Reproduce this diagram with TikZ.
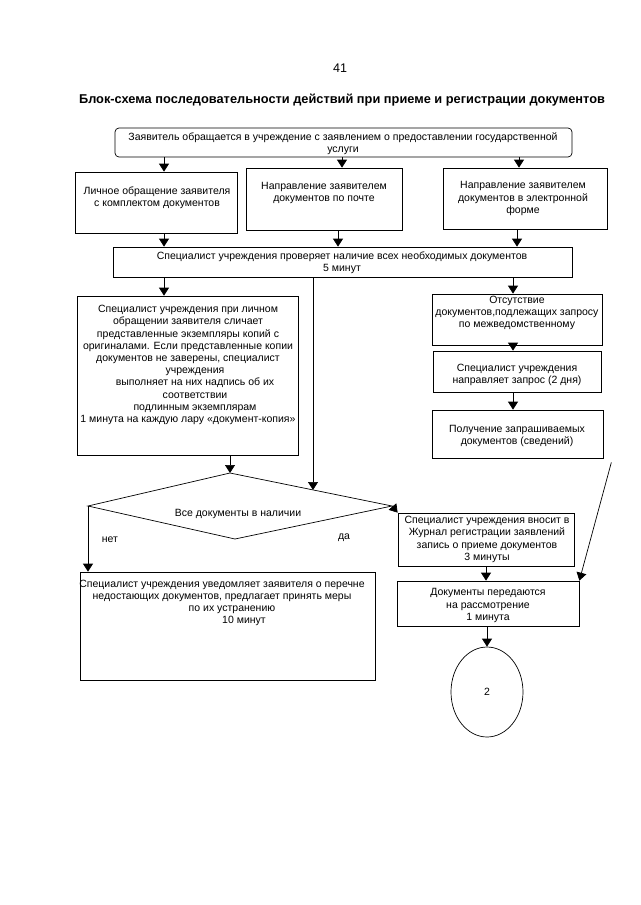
\documentclass[tikz,border=0pt]{standalone}
\usepackage{fontspec}
\setmainfont{Liberation Sans}
\usetikzlibrary{arrows.meta,shapes.geometric}
\begin{document}
\begin{tikzpicture}[x=1pt,y=-1pt,
  box/.style={draw,line width=0.7pt,inner sep=0pt,rectangle},
  txt/.style={align=center,inner sep=0pt,font=\fontsize{10.5}{12.2}\selectfont},
  arr/.style={-{Triangle[length=8pt,width=10pt]},line width=0.7pt},
  ln/.style={line width=0.7pt}]
\fill[white] (0,0) rectangle (640,905);
\useasboundingbox (0,0) rectangle (640,905);

% headings
\node[inner sep=0pt,font=\fontsize{12.5}{14}\selectfont] (pnum) at (340,68) {41};
\node[inner sep=0pt,font=\fontsize{12.8}{14}\selectfont\bfseries] (title) at (342,100) {Блок-схема последовательности действий при приеме и регистрации документов};

% boxes
\node[box,rounded corners=4pt,minimum width=457pt,minimum height=29pt] (T) at (343.5,142.5) {};
\node[txt] (Tt) at (343,144) {Заявитель обращается в учреждение с заявлением о предоставлении государственной\\услуги};

\node[box,minimum width=162pt,minimum height=61pt] (A) at (156,202.5) {};
\node[txt] (At) at (157,197.5) {Личное обращение заявителя\\с комплектом документов};

\node[box,minimum width=156pt,minimum height=62pt] (B) at (324,199) {};
\node[txt] (Bt) at (324,193) {Направление заявителем\\документов по почте};

\node[box,minimum width=164pt,minimum height=61pt] (C) at (525,198.5) {};
\node[txt] (Ct) at (523,198.5) {Направление заявителем\\документов в электронной\\форме};

\node[box,minimum width=459pt,minimum height=30pt] (S1) at (342.5,262) {};
\node[txt] (S1t) at (342,263) {Специалист учреждения проверяет наличие всех необходимых документов\\5 минут};

\node[box,minimum width=221pt,minimum height=159pt] (D) at (187.5,375.5) {};
\node[txt] (Dt) at (188,365) {Специалист учреждения при личном\\обращении заявителя сличает\\представленные экземпляры копий с\\оригиналами. Если представленные копии\\документов не заверены, специалист\\\hspace*{14pt}учреждения\\\hspace*{14pt}выполняет на них надпись об их\\\hspace*{14pt}соответствии\\\hspace*{14pt}подлинным экземплярам\\1 минута на каждую лару «документ-копия»};

\node[box,minimum width=170pt,minimum height=51pt] (O) at (517,319.5) {};
\node[txt] (Ot) at (517,313) {Отсутствие\\документов,подлежащих запросу\\по межведомственному};

\node[box,minimum width=168pt,minimum height=41pt] (N) at (517,371.5) {};
\node[txt] (Nt) at (517,375) {Специалист учреждения\\направляет запрос (2 дня)};

\node[box,minimum width=171pt,minimum height=48pt] (P) at (517.5,434) {};
\node[txt] (Pt) at (517,436) {Получение запрашиваемых\\документов (сведений)};

\node[box,minimum width=176pt,minimum height=53pt] (F) at (486,539.5) {};
\node[txt] (Ft) at (487,539.5) {Специалист учреждения вносит в\\Журнал регистрации заявлений\\запись о приеме документов\\3 минуты};

\node[box,minimum width=182pt,minimum height=45pt] (G) at (488,603.5) {};
\node[txt] (Gt) at (488,605.5) {Документы передаются\\на рассмотрение\\1 минута};

\node[box,minimum width=295pt,minimum height=108pt] (E) at (227.5,626) {};
\node[txt] (Et) at (222,603) {Специалист учреждения уведомляет заявителя о перечне\\недостающих документов, предлагает принять меры\\\hspace*{20pt}по их устранению\\\hspace*{44pt}10 минут};

\node[draw,ellipse,line width=0.7pt,minimum width=72pt,minimum height=90pt,inner sep=0pt,font=\fontsize{10.5}{12.2}\selectfont] (K) at (487,692) {2};

% decision
\coordinate (dl) at (88,506);
\coordinate (dt) at (230,473);
\coordinate (dr) at (392,506);
\coordinate (db) at (235,539);
\draw[ln] (dl) -- (dt) -- (dr) -- (db) -- cycle;
\node[txt] (Qt) at (238,514) {Все документы в наличии};
\node[txt] (no) at (110,540) {нет};
\node[txt] (yes) at (344,538) {да};

% column coordinates
\coordinate (xa) at (164,0);
\coordinate (xb) at (342,0);
\coordinate (xb2) at (338,0);
\coordinate (xc) at (519,0);
\coordinate (xc2) at (517,0);
\coordinate (xo) at (513,0);
\coordinate (xf) at (486,0);
\coordinate (xg) at (487,0);
\coordinate (dd) at (313,490);

% connectors
\draw[arr] (T.south -| xa) -- (A.north -| xa);
\draw[arr] (T.south -| xb) -- (B.north -| xb);
\draw[arr] (T.south -| xc) -- (C.north -| xc);
\draw[arr] (A.south -| xa) -- (S1.north -| xa);
\draw[arr] (B.south -| xb2) -- (S1.north -| xb2);
\draw[arr] (C.south -| xc2) -- (S1.north -| xc2);
\draw[arr] (S1.south -| xa) -- (D.north -| xa);
\draw[arr] (S1.south -| dd) -- (dd);
\draw[arr] (S1.south -| xo) -- (O.north -| xo);
\draw[arr] (O.south -| xo) -- (N.north -| xo);
\draw[arr] (N.south -| xo) -- (P.north -| xo);
\draw[arr] (D.south -| dt) -- (dt);
\draw[arr] (dl) -- (dl |- E.north);
\draw[arr] (dr) -- (F.north west);
\draw[arr] (F.south -| xf) -- (G.north -| xf);
\coordinate (pr) at ([xshift=8pt,yshift=-4pt]P.south east);
\draw[arr] (pr) -- (G.north east);
\draw[arr] (G.south -| xg) -- (K.north);
\end{tikzpicture}
\end{document}
